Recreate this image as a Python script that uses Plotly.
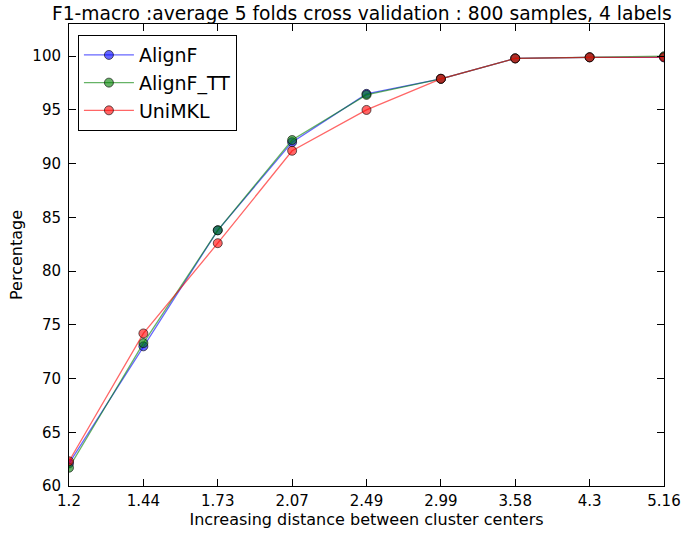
import plotly.graph_objects as go

categories = ["1.2", "1.44", "1.73", "2.07", "2.49", "2.99", "3.58", "4.3", "5.16"]
alignf = [62.1, 73.0, 83.8, 92.0, 96.5, 97.9, 99.8, 99.9, 99.9]
alignf_tt = [61.7, 73.3, 83.8, 92.2, 96.4, 97.9, 99.8, 99.9, 100.0]
unimkl = [62.3, 74.2, 82.6, 91.2, 95.0, 97.9, 99.8, 99.9, 99.9]

series = [
    ("AlignF", alignf, "rgba(0,0,255,0.6)"),
    ("AlignF_TT", alignf_tt, "rgba(0,128,0,0.6)"),
    ("UniMKL", unimkl, "rgba(255,0,0,0.6)"),
]

fig = go.Figure()
for name, vals, col in series:
    fig.add_trace(go.Scatter(
        x=categories, y=vals, name=name, mode="lines+markers",
        line=dict(color=col, width=1.3),
        marker=dict(color=col, size=9, line=dict(color="rgba(0,0,0,0.6)", width=1)),
    ))

axis_common = dict(
    showline=True, linecolor="black", linewidth=1, mirror="ticks",
    ticks="inside", ticklen=7, tickcolor="black", showgrid=False, zeroline=False,
    tickfont=dict(size=15, color="black"), automargin=False,
)

fig.update_layout(
    width=688, height=533,
    margin=dict(l=69, r=24, t=24, b=47, pad=0),
    paper_bgcolor="white", plot_bgcolor="white",
    font=dict(family="DejaVu Sans", color="black"),
    title=dict(text="F1-macro :average 5 folds cross validation : 800 samples, 4 labels",
               x=0.526, xanchor="center", y=0.987, yanchor="top",
               font=dict(size=18.7, color="black")),
    xaxis=dict(type="category", range=[0, 8], ticklabelstandoff=1,
               title=dict(text="Increasing distance between cluster centers",
                          font=dict(size=16), standoff=2), **axis_common),
    yaxis=dict(range=[60, 103], tickvals=[60, 65, 70, 75, 80, 85, 90, 95, 100],
               ticklabelstandoff=4,
               title=dict(text="Percentage", font=dict(size=16), standoff=5), **axis_common),
    legend=dict(x=0.015, y=0.976, xanchor="left", yanchor="top",
                bordercolor="black", borderwidth=1, bgcolor="white",
                font=dict(size=19, color="black"), itemwidth=50,
                tracegroupgap=0),
    showlegend=True,
)

fig.write_html("out.html", config={"displayModeBar": False},
               post_script="document.body.style.margin='0';document.body.style.padding='0';")
